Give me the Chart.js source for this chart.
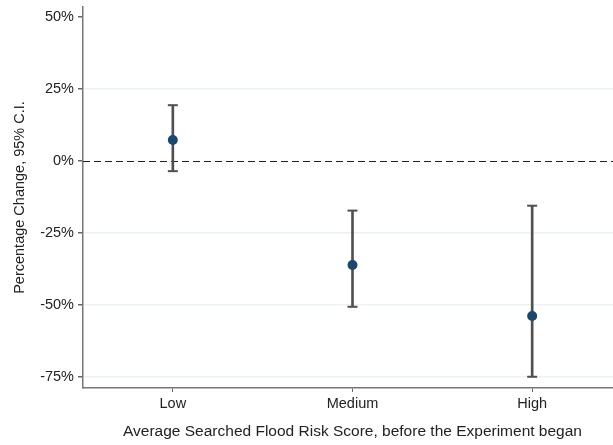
<!DOCTYPE html>
<html>
<head>
<meta charset="utf-8">
<script src="https://cdn.jsdelivr.net/npm/chart.js@4"></script>
<style>
  html, body { margin: 0; padding: 0; background: #fff; overflow: hidden; }
  canvas { display: block; }
</style>
</head>
<body>
<canvas id="chart" width="629" height="445"></canvas>
<script>
const categories = ['Low', 'Medium', 'High'];
const estimates = [7.3, -36.1, -53.8];
const ciLow = [-3.5, -50.6, -74.9];
const ciHigh = [19.4, -17.2, -15.5];
const yTicks = [-75, -50, -25, 0, 25, 50];

const barColor = '#505050';
const dotColor = '#1a476f';
const font = { family: 'Liberation Sans', size: 14.5 };

// dashed reference line at zero
const zeroLine = {
  id: 'zeroLine',
  beforeDatasetsDraw(chart) {
    const { ctx, chartArea, scales: { y } } = chart;
    const py = Math.round(y.getPixelForValue(0)) + 0.5;
    ctx.save();
    ctx.strokeStyle = '#222';
    ctx.lineWidth = 1;
    ctx.setLineDash([7, 4]);
    ctx.beginPath();
    ctx.moveTo(chartArea.left, py);
    ctx.lineTo(chartArea.right, py);
    ctx.stroke();
    ctx.restore();
  }
};

const capStyle = {
  type: 'line',
  showLine: false,
  pointStyle: 'line',
  pointRadius: 5,
  pointBorderWidth: 2,
  pointBorderColor: barColor,
  pointBackgroundColor: barColor,
  order: 2
};

new Chart(document.getElementById('chart'), {
  data: {
    labels: categories,
    datasets: [
      {
        type: 'line',
        data: estimates,
        showLine: false,
        pointRadius: 5,
        pointBackgroundColor: dotColor,
        pointBorderColor: dotColor,
        pointBorderWidth: 0,
        order: 0
      },
      { ...capStyle, data: ciLow },
      { ...capStyle, data: ciHigh },
      {
        type: 'bar',
        data: ciLow.map((lo, i) => [lo, ciHigh[i]]),
        backgroundColor: barColor,
        barThickness: 2,
        order: 3
      }
    ]
  },
  options: {
    responsive: false,
    animation: false,
    events: [],
    layout: { padding: { top: 7, right: 0, left: 0, bottom: 0 } },
    plugins: {
      legend: { display: false },
      tooltip: { enabled: false }
    },
    scales: {
      x: {
        offset: true,
        grid: { offset: false, drawOnChartArea: false, tickLength: 4, color: '#666', lineWidth: 1 },
        border: { color: '#777', width: 1.5 },
        ticks: { color: '#222', font, padding: 3 },
        title: {
          display: true,
          text: 'Average Searched Flood Risk Score, before the Experiment began',
          color: '#222',
          font: { family: 'Liberation Sans', size: 15.5 },
          padding: { top: 6 }
        },
        afterFit(scale) {
          scale.height = 57;
          scale.paddingLeft = 0;
          scale.paddingRight = 0;
        }
      },
      y: {
        min: -78.8,
        max: 53.5,
        afterBuildTicks(scale) { scale.ticks = yTicks.map(v => ({ value: v })); },
        grid: {
          color: ctx => (ctx.tick && (ctx.tick.value === 0 || ctx.tick.value === 50)) ? 'rgba(0,0,0,0)' : '#eaf2f3',
          lineWidth: 1.5,
          tickLength: 5,
          tickColor: '#666',
          drawTicks: true
        },
        border: { color: '#777', width: 1.5 },
        ticks: {
          color: '#222',
          font,
          padding: 4,
          callback: v => v + '%'
        },
        title: {
          display: true,
          text: 'Percentage Change, 95% C.I.',
          color: '#222',
          font,
          padding: { top: 11, bottom: 0 }
        },
        afterFit(scale) {
          scale.width = 83;
          scale.paddingTop = 0;
          scale.paddingBottom = 0;
        }
      }
    }
  },
  plugins: [zeroLine]
});
</script>
</body>
</html>
